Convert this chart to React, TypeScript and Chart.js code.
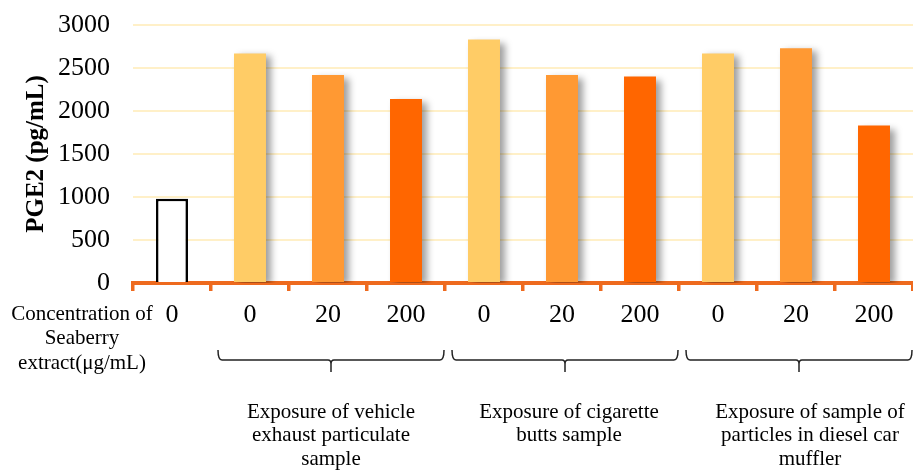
import React, { useEffect, useRef } from "react";
import { Chart, registerables } from "chart.js";

Chart.register(...registerables);

const categories = ["0", "0", "20", "200", "0", "20", "200", "0", "20", "200"];
const pge2Values = [980, 2670, 2420, 2140, 2830, 2420, 2400, 2670, 2730, 1830];
const barColors = ["#FFFFFF", "#FFCC66", "#FF9933", "#FF6600", "#FFCC66", "#FF9933", "#FF6600", "#FFCC66", "#FF9933", "#FF6600"];
const barBorderColors = ["#000000", "#FFCC66", "#FF9933", "#FF6600", "#FFCC66", "#FF9933", "#FF6600", "#FFCC66", "#FF9933", "#FF6600"];
const barBorderWidths = [2.5, 0, 0, 0, 0, 0, 0, 0, 0, 0];
const yTitle = "PGE2 (pg/mL)";
const leftLabelLines = ["Concentration of", "Seaberry", "extract(\u03bcg/mL)"];
const groupRanges = [[1, 3], [4, 6], [7, 9]];
const groupLabels = [
  ["Exposure of vehicle", "exhaust particulate", "sample"],
  ["Exposure of cigarette", "butts sample"],
  ["Exposure of sample of", "particles in diesel car", "muffler"],
];
const groupTextShift = [0, 4, 11];

const FONT = "'Liberation Serif', 'Times New Roman', serif";
const AXIS_ORANGE = "#EE6A1E";

const shadowPlugin = {
  id: "barShadow",
  beforeDatasetsDraw(chart: any) {
    const ctx = chart.ctx;
    ctx.save();
    ctx.shadowColor = "rgba(0,0,0,0.38)";
    ctx.shadowBlur = 7;
    ctx.shadowOffsetX = 5;
    ctx.shadowOffsetY = 3;
  },
  afterDatasetsDraw(chart: any) {
    chart.ctx.restore();
  },
};

const annotationPlugin = {
  id: "annotations",
  afterDraw(chart: any) {
    const ctx = chart.ctx;
    const x = chart.scales.x;
    const catW = x.getPixelForValue(1) - x.getPixelForValue(0);
    ctx.save();
    ctx.fillStyle = "#000";
    ctx.font = `21px ${FONT}`;
    ctx.textAlign = "center";
    ctx.textBaseline = "middle";
    leftLabelLines.forEach((t, i) => ctx.fillText(t, 82, 314 + i * 24.5));

    ctx.strokeStyle = "#222";
    ctx.lineWidth = 1.5;
    groupRanges.forEach((r, gi) => {
      const left = x.getPixelForValue(r[0]) - catW / 2 + 7;
      const right = x.getPixelForValue(r[1]) + catW / 2 - 1;
      const mid = (left + right) / 2;
      const top = 350;
      const hy = 360;
      ctx.beginPath();
      ctx.moveTo(left, top);
      ctx.quadraticCurveTo(left, hy, left + 4, hy);
      ctx.lineTo(mid - 3, hy);
      ctx.quadraticCurveTo(mid, hy, mid, hy + 4);
      ctx.lineTo(mid, 372);
      ctx.moveTo(mid, hy + 4);
      ctx.quadraticCurveTo(mid, hy, mid + 3, hy);
      ctx.lineTo(right - 4, hy);
      ctx.quadraticCurveTo(right, hy, right, top);
      ctx.stroke();

      ctx.font = `21px ${FONT}`;
      groupLabels[gi].forEach((t, i) => {
        ctx.fillText(t, mid + groupTextShift[gi], 412 + i * 23.8);
      });
    });
    ctx.restore();
  },
};

export default function App() {
  const canvasRef = useRef<HTMLCanvasElement | null>(null);

  useEffect(() => {
    if (!canvasRef.current) return;
    const chart = new Chart(canvasRef.current, {
      type: "bar",
      data: {
        labels: categories,
        datasets: [
          {
            data: pge2Values,
            backgroundColor: barColors,
            borderColor: barBorderColors,
            borderWidth: barBorderWidths,
            barPercentage: 0.41,
            categoryPercentage: 1,
          },
        ],
      },
      options: {
        animation: false,
        responsive: false,
        maintainAspectRatio: false,
        layout: { padding: { top: 25, left: 0, right: 0, bottom: 0 } },
        plugins: {
          legend: { display: false },
          tooltip: { enabled: false },
        },
        scales: {
          x: {
            offset: true,
            grid: {
              offset: true,
              drawOnChartArea: false,
              drawTicks: true,
              tickLength: 8,
              color: AXIS_ORANGE,
              lineWidth: 3.5,
            },
            border: { display: true, color: AXIS_ORANGE, width: 4 },
            ticks: {
              color: "#000",
              font: { family: FONT, size: 26 },
              padding: 9,
              maxRotation: 0,
              autoSkip: false,
            },
            afterFit: (scale: any) => {
              scale.height = 187;
            },
          },
          y: {
            min: 0,
            max: 3000,
            ticks: {
              stepSize: 500,
              color: "#000",
              font: { family: FONT, size: 26 },
              padding: 23,
              callback: (v: any) => String(v),
            },
            grid: {
              color: "#FFF0C8",
              lineWidth: 2,
              drawTicks: false,
            },
            border: { display: false },
            title: {
              display: true,
              text: yTitle,
              color: "#000",
              font: { family: FONT, size: 25, weight: "bold" },
              padding: { top: 22, bottom: 0 },
            },
            afterFit: (scale: any) => {
              scale.width = 133;
              scale.paddingTop = 0;
              scale.paddingBottom = 0;
            },
          },
        },
      },
      plugins: [shadowPlugin, annotationPlugin],
    });
    return () => chart.destroy();
  }, []);

  return (
    <div style={{ position: "absolute", left: 0, top: 0, width: 913, height: 470, background: "#fff" }}>
      <canvas ref={canvasRef} width={913} height={470} style={{ width: 913, height: 470 }} />
    </div>
  );
}
